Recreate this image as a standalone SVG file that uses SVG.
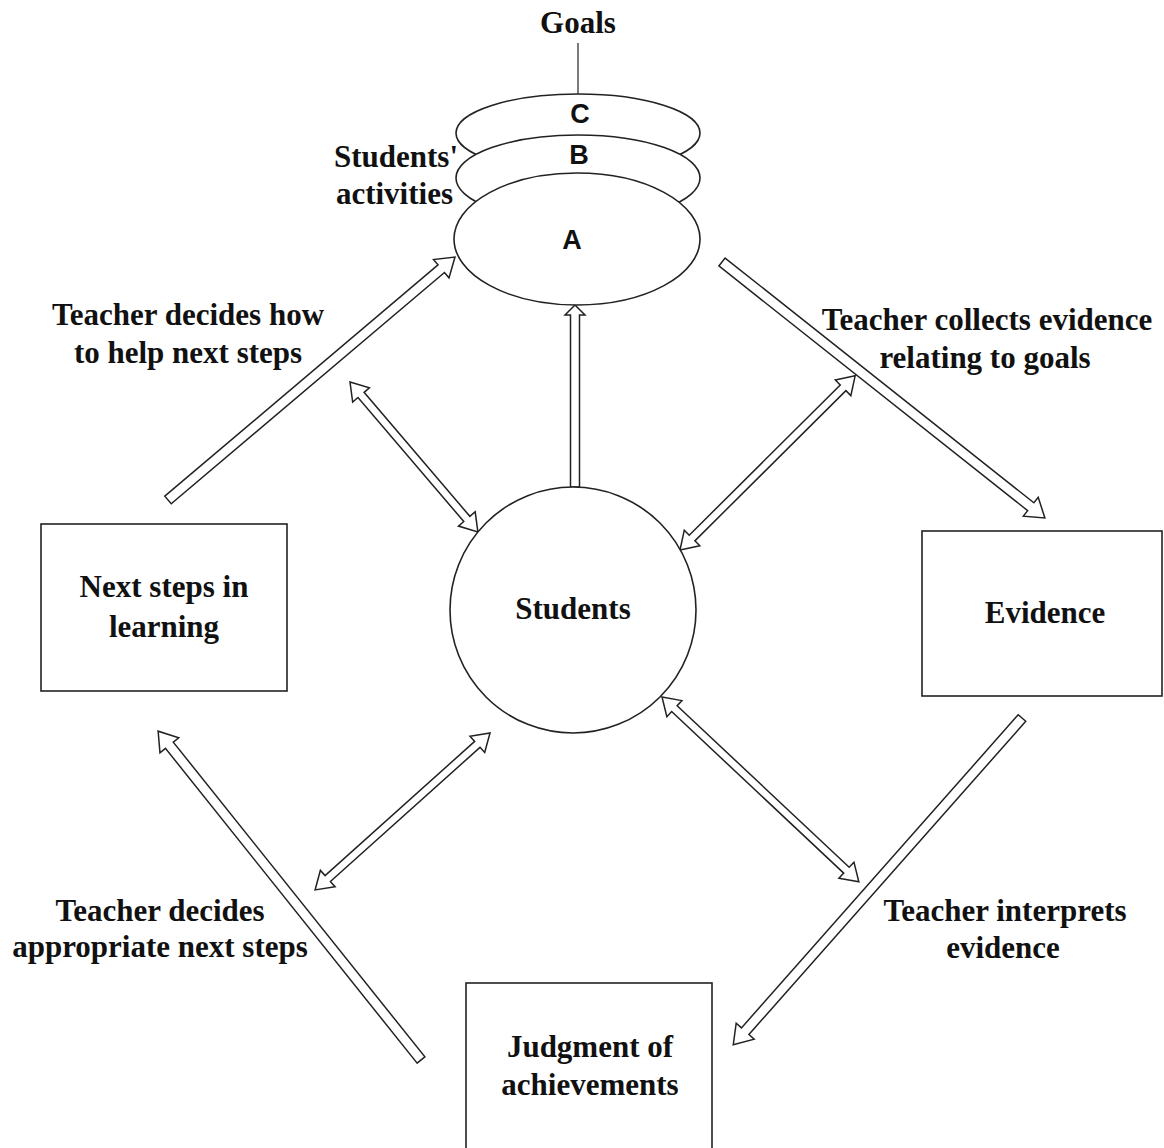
<svg xmlns="http://www.w3.org/2000/svg" width="1164" height="1148" viewBox="0 0 1164 1148">
  <style>
    .box { fill: #fff; stroke: #222; stroke-width: 1.6; }
    .arrow { fill: #fff; stroke: #222; stroke-width: 1.5; stroke-linejoin: miter; }
    .lbl { font-family: "Liberation Serif", "Times New Roman", serif; font-weight: bold; font-size: 31px; fill: #111; text-anchor: middle; }
    .lbl.rt { text-anchor: end; }
    .ltr { font-family: "Liberation Sans", Arial, sans-serif; font-weight: bold; font-size: 27px; fill: #111; text-anchor: middle; }
  </style>
  <rect width="1164" height="1148" fill="#fff"/>

  <!-- Connectors: hollow block arrows, drawn along +x then placed -->
  <g id="connectors">
    <!-- single arrows: tail at 0, tip at L -->
    <polygon class="arrow" transform="translate(168,500) rotate(-40.25)" points="0,-5 358,-5 358,-12 376,0 358,12 358,5 0,5"/>
    <polygon class="arrow" transform="translate(722,262) rotate(38.4)" points="0,-5 394,-5 394,-12 412,0 394,12 394,5 0,5"/>
    <polygon class="arrow" transform="translate(1022,718) rotate(131.47)" points="0,-5 418,-5 418,-12 436,0 418,12 418,5 0,5"/>
    <polygon class="arrow" transform="translate(421,1060) rotate(-128.64)" points="0,-5 403,-5 403,-12 421,0 403,12 403,5 0,5"/>
    <polygon class="arrow" transform="translate(575,487) rotate(-90)" points="0,-4.5 172,-4.5 172,-10 182,0 172,10 172,4.5 0,4.5"/>
    <!-- double arrows between the students and the cycle -->
    <polygon class="arrow" transform="translate(350,382) rotate(49.53)" points="0,0 17,-11 17,-4 180,-4 180,-11 197,0 180,11 180,4 17,4 17,11"/>
    <polygon class="arrow" transform="translate(680,550) rotate(-44.84)" points="0,0 17,-11 17,-4 230,-4 230,-11 247,0 230,11 230,4 17,4 17,11"/>
    <polygon class="arrow" transform="translate(490,733) rotate(138.1)" points="0,0 17,-11 17,-4 218,-4 218,-11 235,0 218,11 218,4 17,4 17,11"/>
    <polygon class="arrow" transform="translate(662,697) rotate(43.2)" points="0,0 17,-11 17,-4 253,-4 253,-11 270,0 253,11 253,4 17,4 17,11"/>
  </g>

  <!-- Goals and the stacked activity discs -->
  <g id="goals">
    <text class="lbl" x="578" y="33" font-size="30">Goals</text>
    <line x1="578" y1="43" x2="578" y2="94" stroke="#333" stroke-width="1.3"/>
  </g>
  <g id="activity-c">
    <ellipse class="box" cx="578" cy="133" rx="122" ry="39"/>
    <text class="ltr" x="580" y="123">C</text>
  </g>
  <g id="activity-b">
    <ellipse class="box" cx="578" cy="178" rx="122" ry="43"/>
    <text class="ltr" x="579" y="164">B</text>
  </g>
  <g id="activity-a">
    <ellipse class="box" cx="577" cy="239" rx="123" ry="66"/>
    <text class="ltr" x="572" y="249">A</text>
  </g>
  <g id="activities-label">
    <text class="lbl rt" x="458" y="167">Students'</text>
    <text class="lbl rt" x="453" y="204">activities</text>
  </g>

  <!-- Centre -->
  <g id="students">
    <circle class="box" cx="573" cy="610" r="123"/>
    <text class="lbl" x="573" y="619">Students</text>
  </g>

  <!-- Cycle boxes -->
  <g id="next-steps">
    <rect class="box" x="41" y="524" width="246" height="167"/>
    <text class="lbl" x="164" y="597">Next steps in</text>
    <text class="lbl" x="164" y="637">learning</text>
  </g>
  <g id="evidence">
    <rect class="box" x="922" y="531" width="240" height="165"/>
    <text class="lbl" x="1045" y="623">Evidence</text>
  </g>
  <g id="judgment">
    <rect class="box" x="466" y="983" width="246" height="200"/>
    <text class="lbl" x="590" y="1057">Judgment of</text>
    <text class="lbl" x="590" y="1095">achievements</text>
  </g>

  <!-- Arrow captions -->
  <g id="caption-help">
    <text class="lbl" x="188" y="325">Teacher decides how</text>
    <text class="lbl" x="188" y="363">to help next steps</text>
  </g>
  <g id="caption-collect">
    <text class="lbl" x="987" y="330">Teacher collects evidence</text>
    <text class="lbl" x="985" y="368">relating to goals</text>
  </g>
  <g id="caption-interpret">
    <text class="lbl" x="1005" y="921">Teacher interprets</text>
    <text class="lbl" x="1003" y="958">evidence</text>
  </g>
  <g id="caption-decide">
    <text class="lbl" x="160" y="921">Teacher decides</text>
    <text class="lbl" x="160" y="957">appropriate next steps</text>
  </g>
</svg>
